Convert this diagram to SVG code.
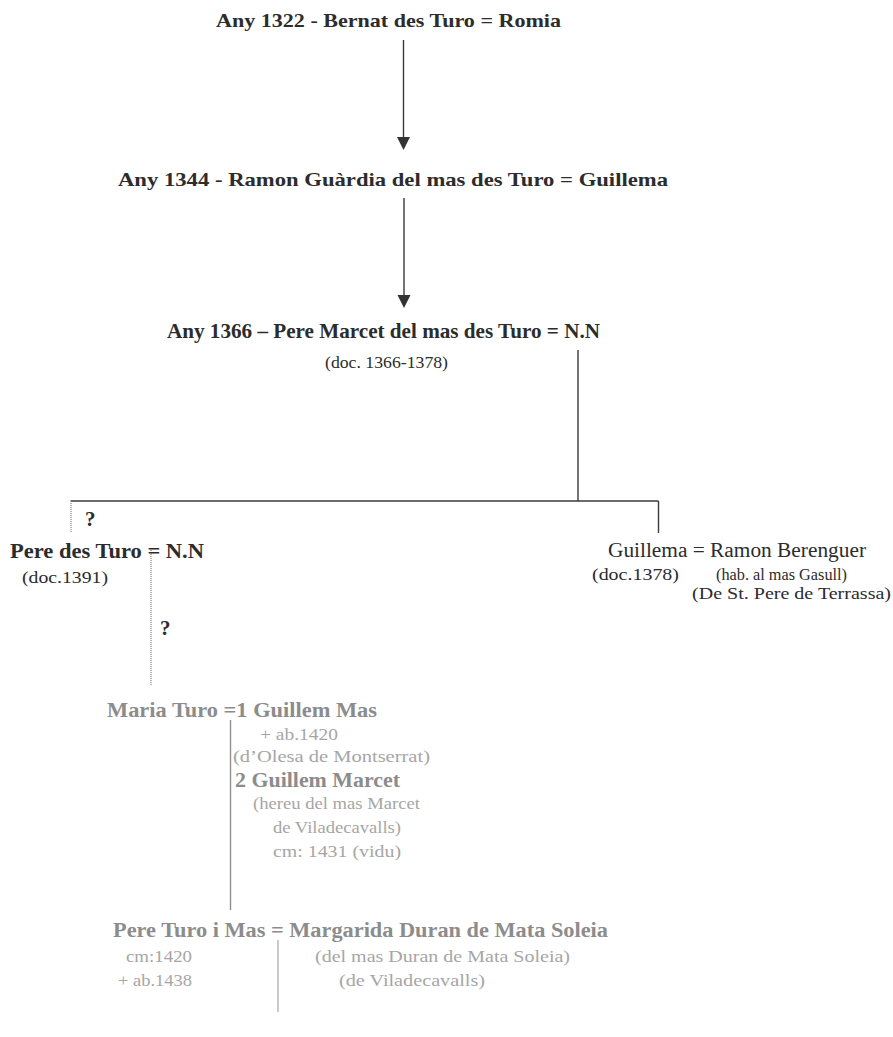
<svg xmlns="http://www.w3.org/2000/svg" width="893" height="1037" viewBox="0 0 893 1037">
<style>
text{font-family:"Liberation Serif","Times New Roman",serif}
.b{font-weight:bold}
.dk{fill:#2c2c2c}
.g1{fill:#8c8c8c}
.g2{fill:#a6a6a6}
.ln{stroke:#3a3a3a;stroke-width:1.4;fill:none}
.lg{stroke:#8e8e8e;stroke-width:1.4;fill:none}
.lg2{stroke:#b4b4b4;stroke-width:1.4;fill:none}
.dot{stroke:#a0a0a0;stroke-width:1.6;stroke-dasharray:1 1;fill:none}
</style>
<defs>
<marker id="ah" markerWidth="14" markerHeight="14" refX="6.5" refY="13" orient="auto" markerUnits="userSpaceOnUse" viewBox="0 0 14 14">
<path d="M0,0 L13,0 L6.5,13 Z" fill="#333"/>
</marker>
</defs>
<rect width="893" height="1037" fill="#fff"/>
<g id="connectors">
<line class="ln" x1="403.5" y1="40" x2="403.5" y2="137"/>
<path d="M397,137 L410,137 L403.5,150 Z" fill="#333"/>
<line class="ln" x1="404" y1="198" x2="404" y2="295"/>
<path d="M397.5,295 L410.5,295 L404,308 Z" fill="#333"/>
<line class="ln" x1="578" y1="350" x2="578" y2="501"/>
<line class="ln" x1="70.5" y1="501" x2="658.5" y2="501"/>
<line class="ln" x1="658.5" y1="501" x2="658.5" y2="533"/>
<line class="dot" x1="71" y1="503" x2="71" y2="532"/>
<line class="dot" x1="151" y1="550" x2="151" y2="686"/>
<line class="lg" x1="230.5" y1="720" x2="230.5" y2="910"/>
<line class="lg2" x1="278" y1="940" x2="278" y2="1012"/>
</g>
<g id="n1322">
<text class="b dk" x="216" y="27" font-size="19" textLength="345" lengthAdjust="spacingAndGlyphs">Any 1322 - Bernat des Turo = Romia</text>
</g>
<g id="n1344">
<text class="b dk" x="118" y="186" font-size="19" textLength="550" lengthAdjust="spacingAndGlyphs">Any 1344 - Ramon Guàrdia del mas des Turo = Guillema</text>
</g>
<g id="n1366">
<text class="b dk" x="167" y="338" font-size="21" textLength="433" lengthAdjust="spacingAndGlyphs">Any 1366 – Pere Marcet del mas des Turo = N.N</text>
<text class="dk" x="325" y="368" font-size="16" textLength="123" lengthAdjust="spacingAndGlyphs">(doc. 1366-1378)</text>
</g>
<g id="pere-des-turo">
<text class="b dk" x="85" y="526" font-size="21">?</text>
<text class="b dk" x="10" y="558" font-size="21" textLength="194" lengthAdjust="spacingAndGlyphs">Pere des Turo = N.N</text>
<text class="dk" x="22" y="583" font-size="17" textLength="86" lengthAdjust="spacingAndGlyphs">(doc.1391)</text>
<text class="b dk" x="160" y="635" font-size="21">?</text>
</g>
<g id="guillema">
<text class="dk" x="608" y="557" font-size="20" textLength="258" lengthAdjust="spacingAndGlyphs">Guillema = Ramon Berenguer</text>
<text class="dk" x="592" y="580" font-size="16" textLength="87" lengthAdjust="spacingAndGlyphs">(doc.1378)</text>
<text class="dk" x="716" y="580" font-size="16" textLength="131" lengthAdjust="spacingAndGlyphs">(hab. al mas Gasull)</text>
<text class="dk" x="692" y="599" font-size="17" textLength="199" lengthAdjust="spacingAndGlyphs">(De St. Pere de Terrassa)</text>
</g>
<g id="maria-turo">
<text class="b g1" x="107" y="717" font-size="20" textLength="270" lengthAdjust="spacingAndGlyphs">Maria Turo =1 Guillem Mas</text>
<text class="g2" x="260" y="740" font-size="16" textLength="78" lengthAdjust="spacingAndGlyphs">+ ab.1420</text>
<text class="g2" x="233" y="762" font-size="16" textLength="197" lengthAdjust="spacingAndGlyphs">(d’Olesa de Montserrat)</text>
<text class="b g1" x="235" y="787" font-size="20" textLength="165" lengthAdjust="spacingAndGlyphs">2 Guillem Marcet</text>
<text class="g2" x="253" y="809" font-size="16" textLength="167" lengthAdjust="spacingAndGlyphs">(hereu del mas Marcet</text>
<text class="g2" x="273" y="833" font-size="16" textLength="128" lengthAdjust="spacingAndGlyphs">de Viladecavalls)</text>
<text class="g2" x="273" y="857" font-size="16" textLength="128" lengthAdjust="spacingAndGlyphs">cm: 1431 (vidu)</text>
</g>
<g id="pere-turo-i-mas">
<text class="b g1" x="113" y="937" font-size="20" textLength="495" lengthAdjust="spacingAndGlyphs">Pere Turo i Mas = Margarida Duran de Mata Soleia</text>
<text class="g2" x="126" y="962" font-size="16" textLength="66" lengthAdjust="spacingAndGlyphs">cm:1420</text>
<text class="g2" x="118" y="986" font-size="16" textLength="74" lengthAdjust="spacingAndGlyphs">+ ab.1438</text>
<text class="g2" x="315" y="962" font-size="16" textLength="255" lengthAdjust="spacingAndGlyphs">(del mas Duran de Mata Soleia)</text>
<text class="g2" x="339" y="986" font-size="16" textLength="146" lengthAdjust="spacingAndGlyphs">(de Viladecavalls)</text>
</g>
</svg>
